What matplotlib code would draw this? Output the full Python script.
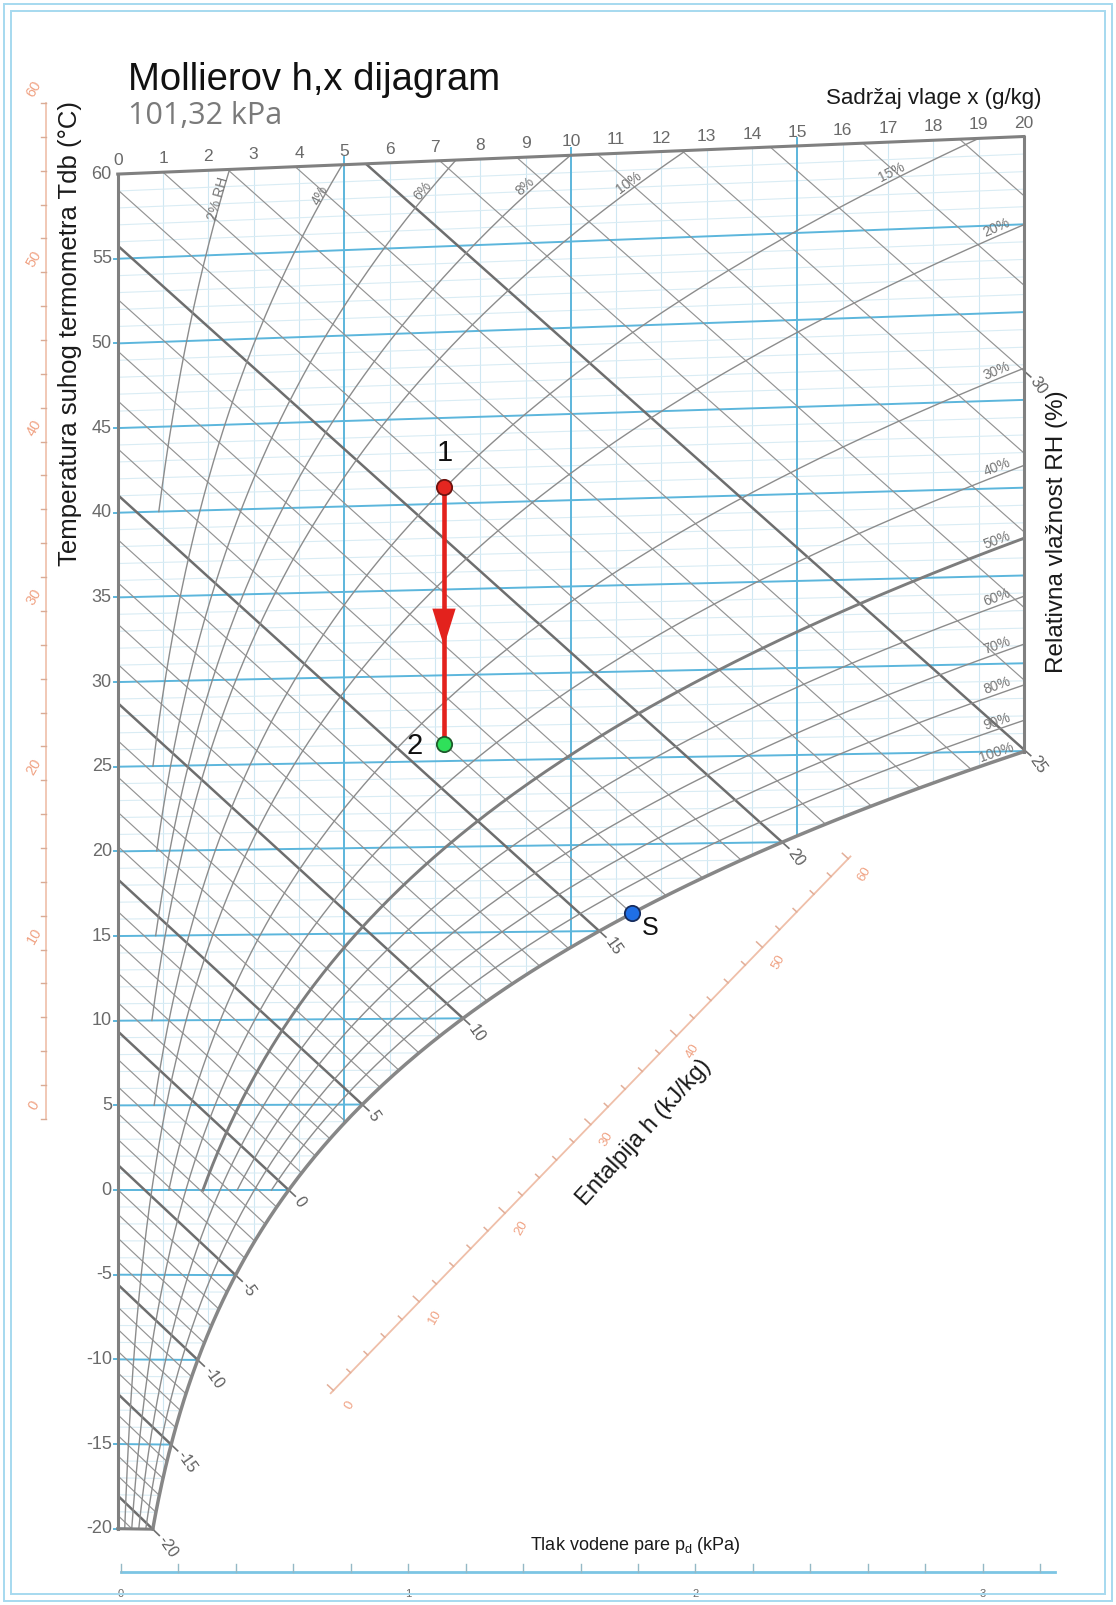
from __future__ import annotations

import matplotlib
import numpy as np

matplotlib.use("Agg")
import matplotlib.pyplot as plt  # noqa: E402
from matplotlib.patches import Polygon, Rectangle  # noqa: E402


OUTPUT_PATH = "out.png"
FIG_W, FIG_H = 1116, 1605
P_ATM = 101.32

# ---- chart values -------------------------------------------------------
X_TICKS = list(range(0, 21))
X_MAJOR = [5, 10, 15]
T_TICKS = [-20, -15, -10, -5, 0, 5, 10, 15, 20, 25, 30, 35, 40, 45, 50, 55, 60]
T_MINOR = list(range(-20, 61))

RH_LEVELS = [2, 4, 6, 8, 10, 15, 20, 30, 40, 50, 60, 70, 80, 90]
RH_LOWEST_T = [40, 25, 20, 15, 10, 5, -20, 0, -20, 0, -20, 0, -20, 0]
RH_TOP_LABELS = {2: "2% RH", 4: "4%", 6: "6%", 8: "8%", 10: "10%", 15: "15%"}
RH_EDGE_LABELS = [20, 30, 40, 50, 60, 70, 80, 90, 100]

WB_LINES = list(range(-24, 34))
WB_MAJOR = [-20, -15, -10, -5, 0, 5, 10, 15, 20, 25]
WB_LABELS = [-20, -15, -10, -5, 0, 5, 10, 15, 20, 25, 30]

H_SCALE_TICKS = list(range(0, 61, 2))
H_SCALE_LABELS = [0, 10, 20, 30, 40, 50, 60]
SIDE_SCALE_TICKS = list(range(0, 61, 2))
SIDE_SCALE_LABELS = [0, 10, 20, 30, 40, 50, 60]

P_TICKS = [0.0, 0.2, 0.4, 0.6, 0.8, 1.0, 1.2, 1.4, 1.6, 1.8, 2.0, 2.2, 2.4, 2.6, 2.8, 3.0, 3.2]
P_LABELS = [0, 1, 2, 3]

PROCESS_X = 7.2
PROCESS_T = [41.0, 26.0]
POINT_S_T = 16.0

# ---- layout / style -----------------------------------------------------
XLIM = (-2.598, 22.03)
YLIM = (-24.506, 70.28)
SIDE_SCALE_X = -1.58
SIDE_SCALE_SHIFT = 4.2
H_SCALE_START = (4.70, -12.0)
H_SCALE_END = (16.17, 19.7)
P_AXIS_Y = -22.53
P_X0, P_GAIN = 0.07, 6.34
ARROW_FRAC = 0.62

BLUE = "#5cb6dc"
BLUE_LIGHT = "#cfe7f2"
GRAY = "#8c8c8c"
GRAY_DARK = "#6e6e6e"
LABEL_GRAY = "#6a6a6a"
ORANGE = "#f0a283"
ORANGE_LINE = "#efbfa9"
RED = "#e3221d"


def sat_pressure(t):
    t = np.asarray(t, dtype=float)
    return 0.61094 * np.exp(17.625 * t / (t + 243.04))


def moisture(t, rh):
    pv = rh * sat_pressure(t)
    return 622.0 * pv / (P_ATM - pv)


def skew_y(t, x):
    return np.asarray(t) * (1.006 + 0.00186 * np.asarray(x)) / 1.006


def enthalpy(t, x):
    return 1.006 * t + x / 1000.0 * (2501.0 + 1.86 * t)


def enthalpy_xy(x, y):
    return 1.006 * y + 2.501 * x


def wet_bulb_y(tw, x):
    xs = moisture(tw, 1.0)
    h = enthalpy(tw, xs) - (xs - x) / 1000.0 * 4.186 * tw
    return (h - 2.501 * x) / 1.006


def t_at_moisture(x, rh):
    grid = np.linspace(-25, 70, 4000)
    return float(np.interp(x, moisture(grid, rh), grid))


plt.rcParams["font.family"] = ["Liberation Sans", "DejaVu Sans"]
plt.rcParams["mathtext.default"] = "regular"

fig = plt.figure(figsize=(FIG_W / 100, FIG_H / 100), dpi=100)
ax = fig.add_axes([0, 0, 1, 1])
ax.set_xlim(*XLIM)
ax.set_ylim(*YLIM)
ax.axis("off")


def to_px(x, y):
    return ax.transData.transform((x, y))


def to_data(p):
    return ax.transData.inverted().transform(p)


def angle_between(p0, p1):
    d = to_px(*p1) - to_px(*p0)
    return np.degrees(np.arctan2(d[1], d[0])), d / np.hypot(*d)


# page frame
for inset in (4, 11):
    fig.patches.append(Rectangle((inset / FIG_W, inset / FIG_H), 1 - 2 * inset / FIG_W, 1 - 2 * inset / FIG_H,
                                 transform=fig.transFigure, fill=False, edgecolor="#a6d9ef", lw=1.4))

# clip region of the chart
t_edge = t_at_moisture(20.0, 1.0)
t_sat = np.linspace(-20, t_edge, 300)
x_sat = moisture(t_sat, 1.0)
top_x = np.linspace(0, 20, 40)
verts = [(0, -20), (0, 60)] + list(zip(top_x, skew_y(60, top_x))) + [(20, skew_y(t_edge, 20))]
verts += list(zip(x_sat[::-1], skew_y(t_sat[::-1], x_sat[::-1])))
clip = Polygon(verts, closed=True, transform=ax.transData, facecolor="none", edgecolor="none")
ax.add_patch(clip)


def clipped(line_list):
    for ln in line_list:
        ln.set_clip_path(clip)


# fine grid
for xv in X_TICKS:
    if xv in X_MAJOR or xv in (0, 20):
        continue
    clipped(ax.plot([xv, xv], [-22, 64], color=BLUE_LIGHT, lw=0.8, zorder=1))
for tv in T_MINOR:
    if tv in T_TICKS:
        continue
    clipped(ax.plot([0, 20], skew_y(tv, np.array([0, 20])), color="#d9ecf4", lw=0.8, zorder=1))

# major isotherms and verticals
for tv in T_TICKS[:-1]:
    clipped(ax.plot([0, 20], skew_y(tv, np.array([0, 20])), color=BLUE, lw=1.4, zorder=2))
    ax.plot([-0.09, 0], [tv, tv], color=BLUE, lw=1.4, zorder=2)
for tv in T_TICKS:
    ax.text(-0.13, tv, str(tv), ha="right", va="center", fontsize=13, color=LABEL_GRAY)
for xv in X_MAJOR:
    clipped(ax.plot([xv, xv], [-22, 64], color=BLUE, lw=1.4, zorder=2))
    top = skew_y(60, xv)
    ax.plot([xv, xv], [top, top + 0.45], color=BLUE, lw=1.4, zorder=2)
for xv in X_TICKS:
    p = to_px(xv, skew_y(60, xv)) + np.array([0, 6])
    ax.text(*to_data(p), str(xv), ha="center", va="bottom", fontsize=12.5, color=LABEL_GRAY)

# wet-bulb lines
for tw in WB_LINES:
    ys = wet_bulb_y(tw, np.array([0.0, 20.0]))
    major = tw in WB_MAJOR
    clipped(ax.plot([0, 20], ys, color=GRAY_DARK if major else "#939393",
                    lw=1.8 if major else 0.85, zorder=3))
for tw in WB_LABELS:
    xs = float(moisture(tw, 1.0))
    end_x = min(xs, 20.0)
    end = (end_x, float(wet_bulb_y(tw, end_x)))
    _, d = angle_between(end, (end_x + 0.5, float(wet_bulb_y(tw, end_x + 0.5))))
    p0 = to_px(*end)
    stub = to_data(p0 + d * 9)
    ax.plot([end[0], stub[0]], [end[1], stub[1]], color=GRAY_DARK, lw=1.2, zorder=3)
    lab = to_data(p0 + d * 12)
    ax.text(lab[0], lab[1], str(tw), rotation=-55, rotation_mode="anchor", ha="left", va="center",
            fontsize=11.5, color="#5f5f5f")

# relative humidity curves
for rh, t_min in zip(RH_LEVELS, RH_LOWEST_T):
    tt = np.linspace(t_min, 61, 400)
    xx = moisture(tt, rh / 100)
    heavy = rh == 50
    clipped(ax.plot(xx, skew_y(tt, xx), color="#7d7d7d" if heavy else GRAY,
                    lw=2.1 if heavy else 1.0, zorder=4))
for rh, text in RH_TOP_LABELS.items():
    t0 = 57.8
    p0 = (float(moisture(t0, rh / 100)), float(skew_y(t0, moisture(t0, rh / 100))))
    p1 = (float(moisture(t0 + 0.5, rh / 100)), float(skew_y(t0 + 0.5, moisture(t0 + 0.5, rh / 100))))
    ang, _ = angle_between(p0, p1)
    ax.text(p0[0], p0[1] + 0.5, text, rotation=ang, rotation_mode="anchor", ha="center", va="center",
            fontsize=10, color="#767676", zorder=5)
for rh in RH_EDGE_LABELS:
    t0 = t_at_moisture(19.4, rh / 100)
    t1 = t_at_moisture(18.8, rh / 100)
    p0 = (19.4, float(skew_y(t0, 19.4)))
    ang, _ = angle_between((18.8, float(skew_y(t1, 18.8))), p0)
    ax.text(p0[0], p0[1] + 0.5, f"{rh}%", rotation=ang, rotation_mode="anchor", ha="center", va="center",
            fontsize=10, color="#767676", zorder=5)

# saturation curve and chart border
ax.plot(x_sat, skew_y(t_sat, x_sat), color="#878787", lw=2.5, zorder=5, solid_capstyle="round")
ax.plot([0, 0], [-20, 60], color="#808080", lw=2.2, zorder=5)
ax.plot(top_x, skew_y(60, top_x), color="#808080", lw=2.2, zorder=5)
ax.plot([20, 20], [skew_y(t_edge, 20), skew_y(60, 20)], color="#808080", lw=2.2, zorder=5)
ax.plot([0, x_sat[0]], [-20, skew_y(-20, x_sat[0])], color="#808080", lw=2.2, zorder=5)

# left orange scale
ax.plot([SIDE_SCALE_X, SIDE_SCALE_X], [SIDE_SCALE_SHIFT, 60 + SIDE_SCALE_SHIFT], color=ORANGE_LINE, lw=1.2)
for v in SIDE_SCALE_TICKS:
    y = v + SIDE_SCALE_SHIFT
    ax.plot([SIDE_SCALE_X - 0.11, SIDE_SCALE_X], [y, y], color="#d9ab95", lw=1.0)
for v in SIDE_SCALE_LABELS:
    ax.text(SIDE_SCALE_X - 0.26, v + SIDE_SCALE_SHIFT + 0.8, str(v), rotation=60, ha="center", va="center",
            fontsize=10.5, color=ORANGE)

# diagonal enthalpy scale
h_a = enthalpy_xy(*H_SCALE_START)
h_b = enthalpy_xy(*H_SCALE_END)
a = np.array(H_SCALE_START)
b = np.array(H_SCALE_END)


def h_point(v):
    return a + (v - h_a) / (h_b - h_a) * (b - a)


ax.plot([a[0], b[0]], [a[1], b[1]], color=ORANGE_LINE, lw=1.3)
scale_angle, _ = angle_between(tuple(a), tuple(b))
for v in H_SCALE_TICKS:
    pt = h_point(v)
    _, u = angle_between(tuple(pt), (pt[0] - 1.0, pt[1] + 2.501 / 1.006))
    length = 8 if v in H_SCALE_LABELS else 5
    q = to_data(to_px(*pt) + u * length)
    ax.plot([pt[0], q[0]], [pt[1], q[1]], color="#e2ae98", lw=1.1)
for v in H_SCALE_LABELS:
    pt = h_point(v)
    _, u = angle_between(tuple(pt), (pt[0] - 1.0, pt[1] + 2.501 / 1.006))
    q = to_data(to_px(*pt) - u * 22)
    ax.text(q[0], q[1], str(v), rotation=60, ha="center", va="center", fontsize=9.5, color=ORANGE)
pt = h_point(32.5)
_, u = angle_between(tuple(pt), (pt[0] - 1.0, pt[1] + 2.501 / 1.006))
q = to_data(to_px(*pt) - u * 44)
ax.text(q[0], q[1], "Entalpija h (kJ/kg)", rotation=scale_angle + 2, rotation_mode="anchor",
        ha="center", va="center", fontsize=17, color="#1a1a1a")

# vapour pressure axis
p_end = P_X0 + P_GAIN * 3.25
ax.plot([P_X0, p_end], [P_AXIS_Y, P_AXIS_Y], color="#7cc5e4", lw=2.0)
for p in P_TICKS:
    xp = P_X0 + P_GAIN * p
    ax.plot([xp, xp], [P_AXIS_Y, P_AXIS_Y + 0.45], color="#94b9c6", lw=1.0)
for p in P_LABELS:
    ax.text(P_X0 + P_GAIN * p, P_AXIS_Y - 1.35, str(p), ha="center", va="center", fontsize=8, color=LABEL_GRAY)
ax.text(11.42, -21.02, "Tlak vodene pare p$_d$ (kPa)", ha="center", va="center", fontsize=13, color="#1a1a1a")

# process 1 -> 2 and point S
y1 = float(skew_y(PROCESS_T[0], PROCESS_X))
y2 = float(skew_y(PROCESS_T[1], PROCESS_X))
ax.plot([PROCESS_X, PROCESS_X], [y1, y2], color=RED, lw=3.3, zorder=8, solid_capstyle="butt")
tip = y1 + ARROW_FRAC * (y2 - y1)
ax.annotate("", xy=(PROCESS_X, tip), xytext=(PROCESS_X, tip + 3.0),
            arrowprops=dict(arrowstyle="-|>,head_length=1.35,head_width=0.42", color=RED, lw=0,
                            mutation_scale=20, shrinkA=0, shrinkB=0), zorder=9)
ax.plot(PROCESS_X, y1, "o", ms=11, mfc="#e52620", mec="#6e1410", mew=1.3, zorder=10)
ax.plot(PROCESS_X, y2, "o", ms=11, mfc="#2fe05a", mec="#1f5a2c", mew=1.3, zorder=10)
xs_s = float(moisture(POINT_S_T, 1.0))
ys_s = float(skew_y(POINT_S_T, xs_s))
ax.plot(xs_s, ys_s, "o", ms=11, mfc="#1f6fe6", mec="#172c5c", mew=1.3, zorder=10)

q = to_data(to_px(PROCESS_X, y1) + np.array([1, 34]))
ax.text(q[0], q[1], "1", ha="center", va="center", fontsize=21, color="#111111", zorder=10)
q = to_data(to_px(PROCESS_X, y2) + np.array([-29, -2]))
ax.text(q[0], q[1], "2", ha="center", va="center", fontsize=21, color="#111111", zorder=10)
q = to_data(to_px(xs_s, ys_s) + np.array([18, -15]))
ax.text(q[0], q[1], "S", ha="center", va="center", fontsize=18, color="#111111", zorder=10)

# titles and axis names
fig.text(128 / FIG_W, 1 - 90 / FIG_H, "Mollierov h,x dijagram", fontsize=27.5, color="#111111", va="baseline")
fig.text(128 / FIG_W, 1 - 124 / FIG_H, "101,32 kPa", fontsize=22, color="#7a7a7a", va="baseline",
         family=["Open Sans", "DejaVu Sans"])
fig.text(1041 / FIG_W, 1 - 104 / FIG_H, "Sadržaj vlage x (g/kg)", fontsize=16, color="#1a1a1a",
         ha="right", va="baseline")
fig.text(70 / FIG_W, 1 - 334 / FIG_H, "Temperatura suhog termometra Tdb (°C)", fontsize=18.5, color="#1a1a1a",
         rotation=90, ha="center", va="center")
fig.text(1057 / FIG_W, 1 - 532 / FIG_H, "Relativna vlažnost RH (%)", fontsize=17.5, color="#1a1a1a",
         rotation=90, ha="center", va="center")

fig.savefig(OUTPUT_PATH, dpi=100)
plt.close(fig)
